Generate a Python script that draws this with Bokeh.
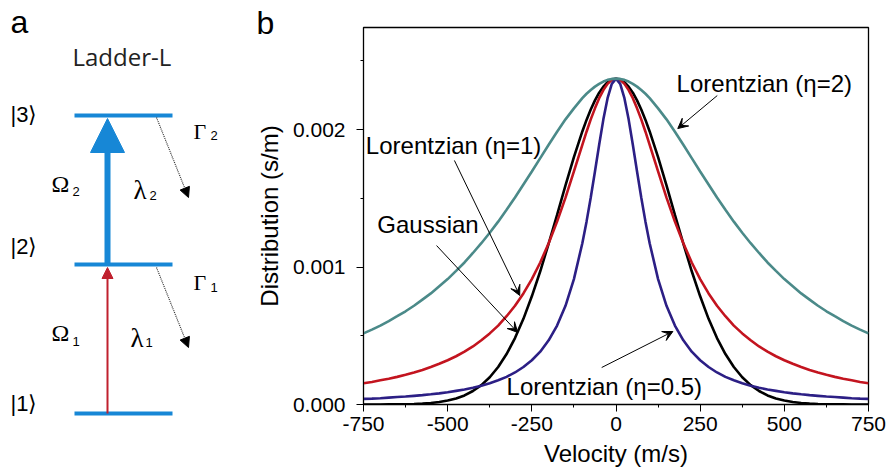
from bokeh.plotting import figure
from bokeh.layouts import row
from bokeh.models import (Range1d, FixedTicker, Arrow, NormalHead, VeeHead)
from bokeh.core.properties import value
from bokeh.embed import file_html
from bokeh.resources import INLINE

# ---------------- data (panel b) ----------------
velocity = [-750, -725, -700, -675, -650, -625, -600, -575, -550, -525, -500, -475, -450, -425,
            -400, -375, -350, -325, -300, -275, -250, -225, -200, -175, -150, -125, -100,
            -87.5, -75, -62.5, -50, -37.5, -25, -12.5, 0, 12.5, 25, 37.5, 50, 62.5, 75, 87.5,
            100, 125, 150, 175, 200, 225, 250, 275, 300, 325, 350, 375, 400, 425, 450, 475,
            500, 525, 550, 575, 600, 625, 650, 675, 700, 725, 750]

# distribution values in units of 1e-3 s/m
gaussian = [0.000, 0.000, 0.000, 0.001, 0.001, 0.002, 0.004, 0.007, 0.011, 0.018, 0.029, 0.044, 0.066, 0.098,
            0.141, 0.198, 0.273, 0.367, 0.483, 0.623, 0.787, 0.969, 1.171, 1.379, 1.593, 1.799, 1.986,
            2.070, 2.145, 2.212, 2.268, 2.312, 2.344, 2.363, 2.370, 2.363, 2.344, 2.312, 2.268, 2.212, 2.145, 2.070,
            1.986, 1.799, 1.593, 1.379, 1.171, 0.969, 0.787, 0.623, 0.483, 0.367, 0.273, 0.198, 0.141, 0.098, 0.066, 0.044,
            0.029, 0.018, 0.011, 0.007, 0.004, 0.002, 0.001, 0.001, 0.000, 0.000, 0.000]

lorentz_eta1 = [0.155, 0.164, 0.176, 0.188, 0.201, 0.216, 0.233, 0.251, 0.273, 0.296, 0.322, 0.351, 0.384, 0.422,
                0.467, 0.517, 0.574, 0.642, 0.718, 0.808, 0.912, 1.033, 1.173, 1.330, 1.505, 1.695, 1.889,
                1.984, 2.074, 2.154, 2.228, 2.287, 2.332, 2.361, 2.370, 2.361, 2.332, 2.287, 2.228, 2.154, 2.074, 1.984,
                1.889, 1.695, 1.505, 1.330, 1.173, 1.033, 0.912, 0.808, 0.718, 0.642, 0.574, 0.517, 0.467, 0.422, 0.384, 0.351,
                0.322, 0.296, 0.273, 0.251, 0.233, 0.216, 0.201, 0.188, 0.176, 0.164, 0.155]

lorentz_eta2 = [0.517, 0.545, 0.574, 0.607, 0.642, 0.678, 0.718, 0.763, 0.808, 0.860, 0.912, 0.972, 1.033, 1.102,
                1.173, 1.249, 1.330, 1.417, 1.505, 1.600, 1.695, 1.792, 1.889, 1.984, 2.074, 2.154, 2.228,
                2.260, 2.287, 2.312, 2.332, 2.349, 2.361, 2.368, 2.370, 2.368, 2.361, 2.349, 2.332, 2.312, 2.287, 2.260,
                2.228, 2.154, 2.074, 1.984, 1.889, 1.792, 1.695, 1.600, 1.505, 1.417, 1.330, 1.249, 1.173, 1.102, 1.033, 0.972,
                0.912, 0.860, 0.808, 0.763, 0.718, 0.678, 0.642, 0.607, 0.574, 0.545, 0.517]

lorentz_eta05 = [0.041, 0.043, 0.046, 0.050, 0.054, 0.058, 0.063, 0.068, 0.074, 0.081, 0.089, 0.099, 0.109, 0.122,
                 0.137, 0.155, 0.176, 0.201, 0.233, 0.273, 0.322, 0.384, 0.467, 0.574, 0.718, 0.912, 1.173,
                 1.330, 1.505, 1.695, 1.889, 2.074, 2.228, 2.332, 2.370, 2.332, 2.228, 2.074, 1.889, 1.695, 1.505, 1.330,
                 1.173, 0.912, 0.718, 0.574, 0.467, 0.384, 0.322, 0.273, 0.233, 0.201, 0.176, 0.155, 0.137, 0.122, 0.109, 0.099,
                 0.089, 0.081, 0.074, 0.068, 0.063, 0.058, 0.054, 0.050, 0.046, 0.043, 0.041]

x_ticks = [-750, -500, -250, 0, 250, 500, 750]
x_tick_labels = ["-750", "-500", "-250", "0", "250", "500", "750"]
x_minor = [-625, -375, -125, 125, 375, 625]
y_ticks = [0, 1, 2]
y_minor = [0.5, 1.5, 2.5]
y_tick_labels = ["0.000", "0.001", "0.002"]

# annotations: (text, x, y) and arrows (x0, y0, x1, y1), data units
ann_text = ["Lorentzian (η=2)", "Lorentzian (η=1)", "Gaussian", "Lorentzian (η=0.5)"]
ann_x = [180, -743, -709, -325]
ann_y = [2.334, 1.883, 1.309, 0.131]
arr_x0 = [300.8, -480, -533, -42.5]
arr_y0 = [2.247, 1.775, 1.156, 0.269]
arr_x1 = [183.5, -286, -292, 169]
arr_y1 = [2.007, 0.793, 0.524, 0.531]

# ---------------- schematic (panel a), page-pixel coordinates ----------------
level_y = [413, 264, 115]
level_x0, level_x1 = 74, 172
ket_labels = ["|1⟩", "|2⟩", "|3⟩"]
ket_y = [403, 246, 114]

BLUE = "#1787d6"
RED = "#c0202e"
SANS = "Liberation Sans"
SERIF = "Liberation Serif"

LEFT_W = 252
TOTAL_W, TOTAL_H = 886, 472

# ---------------- panel a ----------------
pa = figure(width=LEFT_W, height=TOTAL_H, x_range=Range1d(0, LEFT_W), y_range=Range1d(TOTAL_H, 0),
            x_axis_location=None, y_axis_location=None, min_border=0,
            output_backend="svg", toolbar_location=None)
pa.grid.visible = False
pa.outline_line_color = None

pa.segment(x0=[level_x0] * 3, y0=level_y, x1=[level_x1] * 3, y1=level_y,
           line_color=BLUE, line_width=4)

pa.add_layout(Arrow(x_start=107, y_start=264, x_end=107, y_end=118, line_color=BLUE, line_width=6,
                    end=NormalHead(size=34, fill_color=BLUE, line_color=BLUE, line_width=1)))
pa.add_layout(Arrow(x_start=107, y_start=413, x_end=107, y_end=267, line_color=RED, line_width=2,
                    end=NormalHead(size=11, fill_color=RED, line_color=RED, line_width=1)))
for y0, y1 in [(117, 197), (267, 347)]:
    pa.add_layout(Arrow(x_start=156, y_start=y0, x_end=188, y_end=y1, line_color="#333333",
                        line_width=1.2, line_dash="1 1",
                        end=NormalHead(size=10, fill_color="black", line_color="black", line_width=1)))

pa.text(x=[10], y=[21], text=["a"], text_font=value(SANS), text_font_size="32px",
        text_baseline="alphabetic", text_color="black")
pa.text(x=[72], y=[56], text=["Ladder-L"], text_font=value("Open Sans"), text_font_size="24px",
        text_baseline="alphabetic", text_color="#222222")
pa.text(x=[10] * 3, y=ket_y, text=ket_labels, text_font=value(SANS), text_font_size="22px",
        text_baseline="alphabetic", text_color="black")
pa.text(x=[51, 51], y=[332, 183], text=["Ω", "Ω"], text_font=value(SERIF), text_font_size="24px",
        text_baseline="alphabetic", text_color="black")
pa.text(x=[130, 133], y=[337, 189], text=["λ", "λ"], text_font=value(SERIF), text_font_size="27px",
        text_baseline="alphabetic", text_color="black")
pa.text(x=[193, 193], y=[282, 131], text=["Γ", "Γ"], text_font=value(SERIF), text_font_size="22px",
        text_baseline="alphabetic", text_color="black")
pa.text(x=[72, 72, 145, 149, 210, 210], y=[341, 191, 342, 195, 287, 135],
        text=["1", "2", "1", "2", "1", "2"], text_font=value(SANS), text_font_size="13px",
        text_baseline="alphabetic", text_color="black")

# ---------------- panel b ----------------
p = figure(width=TOTAL_W - LEFT_W, height=TOTAL_H, x_range=Range1d(-750, 750), y_range=Range1d(0, 2.742),
           min_border_left=105, min_border_right=18, min_border_top=27, min_border_bottom=68,
           output_backend="svg", toolbar_location=None)
p.grid.visible = False
p.outline_line_color = "black"
p.outline_line_width = 1.3

for fig in (pa, p):
    try:
        fig.frame_align = False
    except Exception:
        pass

# panel letter "b" as the plot title, shifted left of the frame
p.title.text = "b"
p.title.align = "left"
p.title.offset = -107
p.title.standoff = -26
p.title.text_font = SANS
p.title.text_font_size = "32px"
p.title.text_font_style = "normal"
p.title.text_color = "black"

p.line(velocity, gaussian, line_color="black", line_width=2.6)
p.line(velocity, lorentz_eta1, line_color="#c3141f", line_width=2.6)
p.line(velocity, lorentz_eta05, line_color="#2c1f85", line_width=2.6)
p.line(velocity, lorentz_eta2, line_color="#4b8a89", line_width=2.6)

for ax in (p.xaxis[0], p.yaxis[0]):
    ax.major_tick_out = 7
    ax.major_tick_in = 0
    ax.minor_tick_out = 3
    ax.minor_tick_in = 0
    ax.major_label_text_font = SANS
    ax.major_label_text_font_size = "21px"
    ax.major_label_text_color = "black"
    ax.axis_label_text_font = SANS
    ax.axis_label_text_font_size = "24px"
    ax.axis_label_text_font_style = "normal"
    ax.axis_label_text_color = "black"
    ax.axis_line_color = "black"
    ax.major_tick_line_color = "black"
    ax.minor_tick_line_color = "black"

p.xaxis[0].ticker = FixedTicker(ticks=x_ticks, minor_ticks=x_minor)
p.xaxis[0].major_label_overrides = {t: s for t, s in zip(x_ticks, x_tick_labels)}
p.xaxis[0].axis_label = "Velocity (m/s)"
p.xaxis[0].major_label_standoff = 5
p.xaxis[0].axis_label_standoff = 6

p.yaxis[0].ticker = FixedTicker(ticks=y_ticks, minor_ticks=y_minor)
p.yaxis[0].major_label_overrides = {t: s for t, s in zip(y_ticks, y_tick_labels)}
p.yaxis[0].axis_label = "Distribution (s/m)"
p.yaxis[0].major_label_standoff = 11
p.yaxis[0].axis_label_standoff = 7

p.text(x=ann_x, y=ann_y, text=ann_text, text_font=value(SANS), text_font_size="24px",
       text_baseline="alphabetic", text_color="black")
for x0, y0, x1, y1 in zip(arr_x0, arr_y0, arr_x1, arr_y1):
    p.add_layout(Arrow(x_start=x0, y_start=y0, x_end=x1, y_end=y1, line_color="black", line_width=1,
                       end=VeeHead(size=10, fill_color="black", line_color="black", line_width=1)))

layout = row(pa, p)
open("out.html", "w").write(file_html(layout, INLINE))
